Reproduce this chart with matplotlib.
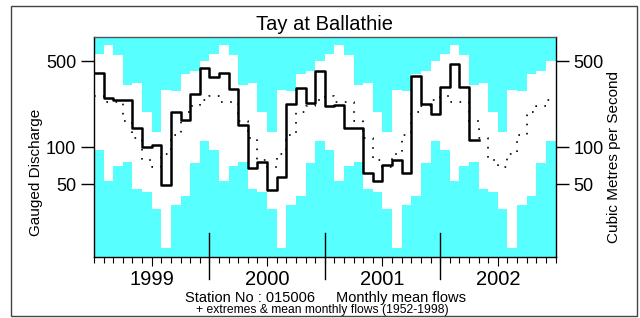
import matplotlib
matplotlib.use("Agg")
import matplotlib.pyplot as plt
import matplotlib.transforms as mtransforms
from matplotlib.patches import Rectangle
import numpy as np

plt.rcParams['font.family'] = ['Liberation Sans', 'DejaVu Sans']

# monthly mean flows Jan 1999 - Apr 2002 (m3/s)
flows = [402, 249, 241, 241, 142, 100, 104, 49, 192, 166, 273, 444,
         373, 402, 300, 151, 67, 76, 45, 57, 223, 306, 229, 417,
         217, 219, 143, 143, 62, 53, 71, 79, 61, 380, 223, 185,
         309, 479, 309, 114]

# 1952-1998 monthly extremes and means, Jan..Dec
min_flow = [94.5, 53, 70.5, 75.5, 45.5, 42.8, 31.5, 14.9, 33.7, 39.9, 73.6, 112]
max_flow = [578, 674, 559, 319, 330, 194, 133, 290, 287, 397, 415, 500]
mean_flow = [261, 231, 231, 163, 119, 79, 69, 88, 125, 192, 215, 243]

years = ['1999', '2000', '2001', '2002']
yticks = [50, 100, 500]

cyan = '#57ffff'
W, H = 640, 318

fig = plt.figure(figsize=(W / 100, H / 100), dpi=100)
ax = fig.add_axes([94 / W, 1 - 257 / H, (555.5 - 94) / W, (257 - 37) / H])
ax.set_facecolor(cyan)

n = 12 * len(years)
x = np.arange(n + 1)
lo = np.tile(min_flow, len(years))
hi = np.tile(max_flow, len(years))
mn = np.tile(mean_flow, len(years))
lo = np.append(lo, lo[-1])
hi = np.append(hi, hi[-1])
mn = np.append(mn, mn[-1])

ax.fill_between(x, lo, hi, step='post', color='white', lw=0)
ax.step(x, mn, where='post', color='black', lw=1.2, ls=(0, (1, 4.5)))
fx = np.arange(len(flows) + 1)
ax.step(fx, flows + [flows[-1]], where='post', color='black', lw=1.8)

ax.set_yscale('log')
ax.set_ylim(12.7, 790)
ax.set_xlim(0, n)
ax.set_yticks(yticks)
ax.set_yticklabels([str(v) for v in yticks])
ax.yaxis.set_minor_locator(matplotlib.ticker.NullLocator())
ax.tick_params(axis='y', which='major', length=9.4, width=1, labelsize=13,
               pad=3.5, left=True, right=True, labelleft=True, labelright=True)

ax.set_xticks(np.arange(0, n + 1), minor=True)
ax.set_xticks([6, 18, 30, 42])
ax.set_xticklabels([])
ax.tick_params(axis='x', which='minor', length=4.3, width=0.8, direction='out')
ax.tick_params(axis='x', which='major', length=6.5, width=0.8, direction='out')

# year boundary lines
trans = mtransforms.blended_transform_factory(ax.transData, ax.transAxes)
for k in range(1, len(years)):
    ax.plot([12 * k, 12 * k], [-0.1, 0.109], transform=trans, color='black',
            lw=1, clip_on=False)

for k, yr in enumerate(years):
    ax.text(6 + 12 * k, (257 - 285) / 220, yr, transform=trans, ha='center',
            va='baseline', fontsize=14.5)

for s in ax.spines.values():
    s.set_linewidth(1)
    s.set_color('black')
ax.spines['top'].set_color('#555555')

fig.text(324.5 / W, 1 - 29.5 / H, 'Tay at Ballathie', ha='center', va='baseline', fontsize=14.5)
fig.text(36 / W, 1 - 172 / H, 'Gauged Discharge', rotation=90, ha='center', va='center', fontsize=11)
fig.text(614 / W, 1 - 157.5 / H, 'Cubic Metres per Second', rotation=90, ha='center', va='center', fontsize=11)
fig.text(185 / W, 1 - 302 / H, 'Station No : 015006', ha='left', va='baseline', fontsize=10.5)
fig.text(336 / W, 1 - 302 / H, 'Monthly mean flows', ha='left', va='baseline', fontsize=10.5)
fig.text(322 / W, 1 - 313.5 / H, '+ extremes & mean monthly flows (1952-1998)',
         ha='center', va='baseline', fontsize=8.7)

fig.add_artist(Rectangle((11 / W, (H - 315.5) / H), (637 - 11) / W, (315.5 - 6) / H,
                         transform=fig.transFigure, fill=False, edgecolor='#444444', lw=1))

fig.savefig('out.png', dpi=100)
